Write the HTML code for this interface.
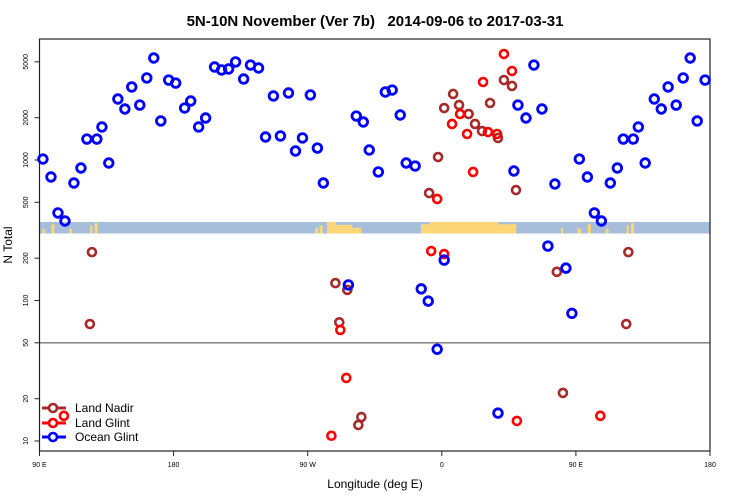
<!DOCTYPE html>
<html><head><meta charset="utf-8"><style>
body{margin:0;background:#fff;}
svg{display:block;font-family:"Liberation Sans",sans-serif;}
</style></head><body>
<svg id="chart" width="750" height="500">
<text x="375" y="26" text-anchor="middle" font-size="15" font-weight="bold">5N-10N November (Ver 7b)&#160;&#160; 2014-09-06 to 2017-03-31</text>
<text x="12" y="245" text-anchor="middle" font-size="12" transform="rotate(-90 12 245)">N Total</text>
<text x="375" y="488" text-anchor="middle" font-size="12">Longitude (deg E)</text>
<g id="map"></g>
<g id="axes"></g>
<g id="marks"></g>
<g id="legend"></g>
</svg>
<script>
const xTicks=[90,180,270,360,450,540];
const xTickLabels=["90 E","180","90 W","0","90 E","180"];
const yTicks=[10,20,50,100,200,500,1000,2000,5000];
const nadirLon=[125.2,123.8,401.7,407.1,367.6,392.4,371.6,361.6,378.0,382.3,387.0,397.7,357.5,351.5,409.8,288.6,296.6,291.2,306.0,304.0,437.2,441.3];
const nadirVal=[221,68,3707,3365,2951,2545,2460,2344,2125,1805,1607,1435,1050,582,611,133,119,70,14.8,13.0,160,22.0];
const glintLon=[106.4,401.7,407.1,387.7,372.3,366.9,377.0,391.0,397.1,381.0,356.9,352.9,361.6,291.9,295.9,285.9,410.4];
const glintVal=[15.1,5680,4300,3590,2125,1805,1531,1581,1531,822,528,225,214,61.7,28.1,10.9,13.9];
const oceanLon=[92.3,97.7,102.4,107.1,113.1,117.8,121.8,128.5,131.9,136.5,142.6,147.3,151.9,157.3,162.0,166.7,171.4,176.7,181.4,187.4,191.5,196.8,201.5,207.5,212.2,216.9,221.6,227.0,231.6,237.0,241.7,247.0,251.7,257.1,261.8,266.5,271.8,276.5,280.5,297.3,302.6,307.3,311.3,317.4,322.1,326.7,332.1,336.1,342.1,346.2,350.9,356.9,361.6,397.7,408.4,411.1,416.5,421.8,427.2,431.2,435.9,443.3,447.3];
const oceanVal=[1016,757,420,368,686,877,1410,1410,1718,952,2717,2307,3311,2460,3837,5321,1896,3707,3530,2344,2630,1718,1990,4592,4375,4446,4989,3773,4742,4518,1458,2855,1483,2999,1159,1435,2904,1216,686,129,2056,1864,1178,822,3048,3148,2091,952,906,121,99,45,194,15.8,835,2460,1990,4742,2307,244,675,170,81];
const landLon0=[[92,93.5,0.4],[98,100,0.8],[110,112,0.4],[124,125.5,0.7],[127,129,0.9],[275,277,0.5],[278,280,0.7],[283,289,1],[289,300,0.75],[300,306,0.5],[346,352,0.8],[352,398,1],[398,410,0.8],[440,441.5,0.5],[451,452,0.5]];

const L=39.5,R=710,T=39,B=451;
const NS="http://www.w3.org/2000/svg";
const sx=lon=>L+(lon-90)*(R-L)/450;
const sy=v=>441-(Math.log10(v)-1)*140.5;
function mk(tag,attrs,parent){const e=document.createElementNS(NS,tag);for(const k in attrs)e.setAttribute(k,attrs[k]);parent.appendChild(e);return e;}
const map=document.getElementById('map'),axes=document.getElementById('axes'),marks=document.getElementById('marks'),leg=document.getElementById('legend');
let bg=mk('rect',{x:L,y:222,width:R-L,height:11.5,fill:'#a7bedb'},map);


landLon0.forEach(s=>{[0,360].forEach(off=>{const a=s[0]+off,b=s[1]+off;if(a>540)return;
 let r=mk('rect',{x:sx(a),y:233.5-11.5*s[2],width:sx(Math.min(b,540))-sx(a),height:11.5*s[2],fill:'#fdd777'},map);
 
 });});
let hl=mk('line',{x1:L,x2:R,y1:sy(50),y2:sy(50),stroke:'#777',"stroke-width":1.3},axes);


let fr=mk('rect',{x:L,y:T,width:R-L,height:B-T,fill:'none',stroke:'#222',"stroke-width":1.2},axes);


xTicks.forEach((t,i)=>{const x=sx(t);
 let l=mk('line',{x1:x,x2:x,y1:B,y2:B+5,stroke:'#222'},axes);
 
 
 let tx=mk('text',{x:x,y:B+16,"text-anchor":"middle","font-size":7},axes);tx.textContent=xTickLabels[i];
 
 });
yTicks.forEach(t=>{const y=sy(t);
 let l=mk('line',{x1:L-5,x2:L,y1:y,y2:y,stroke:'#222'},axes);
 
 
 let tx=mk('text',{x:28,y:y,"text-anchor":"middle","font-size":7,transform:`rotate(-90 28 ${y})`},axes);tx.textContent=t;
 
 });
function series(lons,vals,color,r,sw,name){lons.forEach((lon,i)=>{[0,360].forEach(off=>{const l=lon+off;if(l<90||l>540)return;
 let c=mk('circle',{cx:sx(l),cy:sy(vals[i]),r:r,fill:'none',stroke:color,"stroke-width":sw},marks);
 
 });});}
series(nadirLon,nadirVal,'#a52a2a',4,2.6,'land-nadir-point');
series(glintLon,glintVal,'#ff0000',4,2.6,'land-glint-point');
series(oceanLon,oceanVal,'#0000ff',4.3,2.8,'ocean-glint-point');
[['Land Nadir','#a52a2a',408],['Land Glint','#ff0000',423],['Ocean Glint','#0000ff',437]].forEach(e=>{
 let g=mk('g',{},leg);
 
 
 mk('line',{x1:42,x2:66,y1:e[2],y2:e[2],stroke:e[1],"stroke-width":3},g);
 mk('circle',{cx:53,cy:e[2],r:4,fill:'#fff',stroke:e[1],"stroke-width":2.6},g);
 let t=mk('text',{x:75,y:e[2]+4,"font-size":12},g);t.textContent=e[0];});
</script>
</body></html>
